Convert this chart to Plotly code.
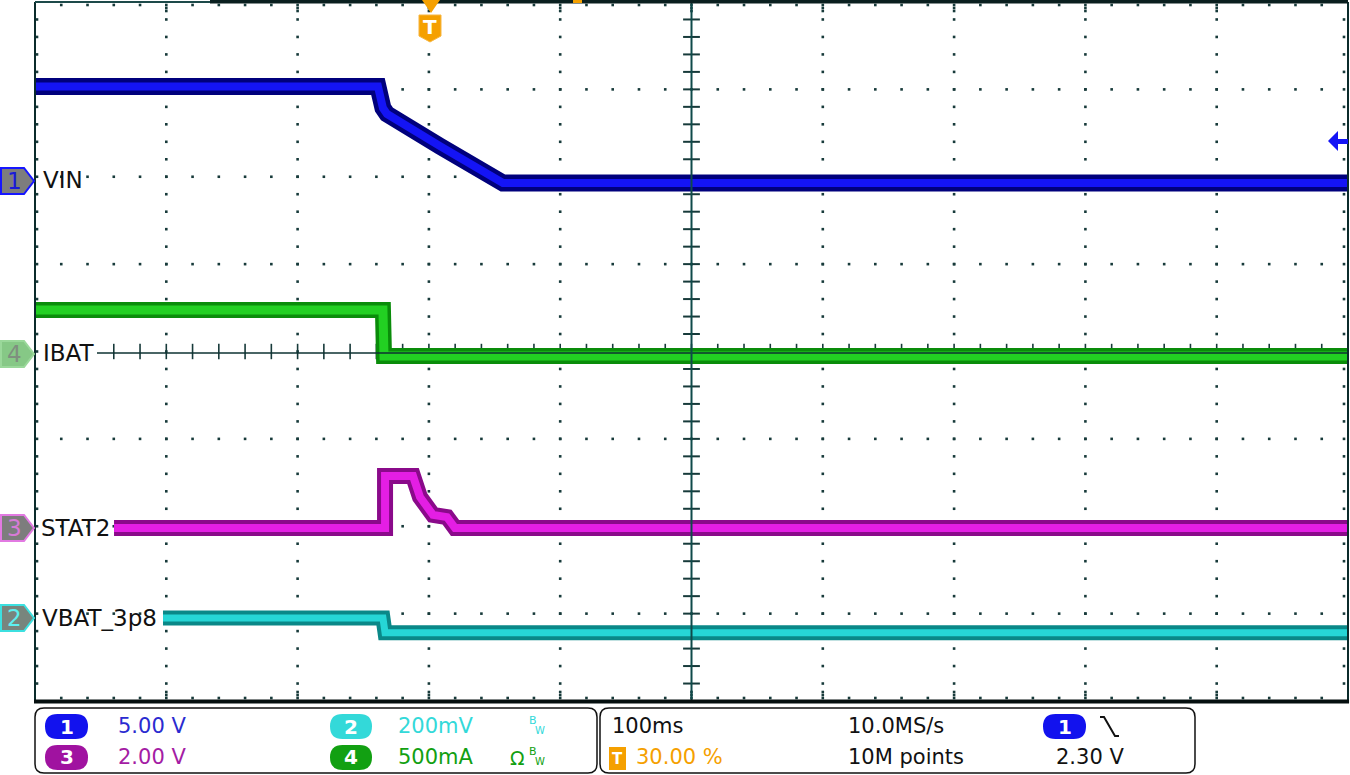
import numpy as np
import plotly.graph_objects as go

# ---------------- data ----------------
# time in ms relative to trigger
VIN_T = [-300, -38.8, -35.0, -31.9, 8.5, 54.1, 56.4, 700]
VIN_V = [5.52, 5.52, 4.29, 3.95, 2.11, 0.10, 0.0, 0.0]

IBAT_T = [-300, -35.0, -34.2, 700]
IBAT_MA = [240, 240, -23, -23]

STAT2_T = [-239.8, -33.4, -33.4, -12.1, -6.8, 3.1, 13.8, 19.9, 700]
STAT2_V = [0, 0, 1.19, 1.19, 0.71, 0.30, 0.25, 0, 0]

VBAT_T = [-202.5, -35.0, -33.4, 700]
VBAT_MV = [0, 0, -34, -34]

CH_LABELS = ["VIN", "IBAT", "STAT2", "VBAT_3p8"]
CH_SCALE_TEXT = {"1": "5.00 V", "2": "200mV", "3": "2.00 V", "4": "500mA"}
TIMEBASE = "100ms"
SAMPLE_RATE = "10.0MS/s"
RECORD = "10M points"
TRIG_POS = "30.00 %"
TRIG_LEVEL = "2.30 V"

# per-division scale and vertical position (divisions from centre) of each channel
SCALE = {"VIN": 5.0, "IBAT": 500.0, "STAT2": 2.0, "VBAT": 200.0}
OFFSET = {"VIN": 1.928, "IBAT": -0.006, "STAT2": -2.02, "VBAT": -3.049}

# ---------------- geometry helpers ----------------
L, R, T, B = 35, 1348, 2, 701
W, H = R - L, B - T


def PX(x):
    return (x - L) / W


def PY(y):
    return (B - y) / H


def rr_path(x0, y0, x1, y1, r):
    p = lambda x, y: f"{PX(x):.5f},{PY(y):.5f}"
    return (f"M {p(x0 + r, y0)} L {p(x1 - r, y0)} Q {p(x1, y0)} {p(x1, y0 + r)} "
            f"L {p(x1, y1 - r)} Q {p(x1, y1)} {p(x1 - r, y1)} L {p(x0 + r, y1)} "
            f"Q {p(x0, y1)} {p(x0, y1 - r)} L {p(x0, y0 + r)} Q {p(x0, y0)} {p(x0 + r, y0)} Z")


def poly_path(pts):
    return "M " + " L ".join(f"{PX(x):.5f},{PY(y):.5f}" for x, y in pts) + " Z"


fig = go.Figure()

# ---------------- waveforms ----------------
traces = [
    ("VIN", VIN_T, VIN_V, "y2", "#00007c", "#1414f5", 17, 8),
    ("IBAT", IBAT_T, IBAT_MA, "y3", "#0a8c0a", "#22d022", 16, 9),
    ("STAT2", STAT2_T, STAT2_V, "y4", "#8a0a8a", "#e41ee4", 16, 8),
    ("VBAT", VBAT_T, VBAT_MV, "y5", "#0a8888", "#26d6d6", 15, 7),
]
for name, tx, vy, ax, dark, bright, wo, wi in traces:
    fig.add_trace(go.Scatter(x=tx, y=vy, yaxis=ax, mode="lines",
                             line=dict(color=dark, width=wo), hoverinfo="skip", showlegend=False))
    fig.add_trace(go.Scatter(x=tx, y=vy, yaxis=ax, mode="lines",
                             line=dict(color=bright, width=wi), hoverinfo="skip", showlegend=False))

# ---------------- graticule ----------------
dot = "#173a3a"
px_ms = 100 / 131.3
px_div = 1 / 87.375
gx, gy = [], []
for t in [-200, -100, 0, 100, 300, 400, 500, 600]:
    for yv in np.arange(-3.8, 3.81, 0.2):
        gx.append(t); gy.append(yv)
for yv in [-3, -2, -1, 1, 2, 3]:
    for t in np.arange(-280, 681, 20):
        gx.append(t); gy.append(yv)
# edges
for t in np.arange(-280, 681, 20):
    gx += [t, t]; gy += [4 - 3 * px_div, -4 + 3 * px_div]
for yv in np.arange(-3.8, 3.81, 0.2):
    gx += [-300 + 2 * px_ms, 700 - 4 * px_ms]; gy += [yv, yv]
# longer ticks at major positions on top/bottom edges
for t in [-200, -100, 0, 100, 200, 300, 400, 500, 600]:
    for k in [6, 9]:
        gx += [t, t]; gy += [4 - k * px_div, -4 + k * px_div]
fig.add_trace(go.Scatter(x=gx, y=gy, mode="markers",
                         marker=dict(symbol="square", size=2.6, color=dot, line_width=0),
                         hoverinfo="skip", showlegend=False))

# centre vertical line ticks and centre horizontal ticks
cy = list(np.arange(-3.8, 3.81, 0.2))
fig.add_trace(go.Scatter(x=[200] * len(cy), y=cy, mode="markers",
                         marker=dict(symbol="line-ew", size=12, line=dict(color=dot, width=2)),
                         hoverinfo="skip", showlegend=False))
hx = list(np.arange(-240, 681, 20))
fig.add_trace(go.Scatter(x=hx, y=[0] * len(hx), mode="markers",
                         marker=dict(symbol="line-ns", size=11, line=dict(color=dot, width=1.6)),
                         hoverinfo="skip", showlegend=False))

shapes = []
# IBAT reference line
shapes.append(dict(type="line", xref="paper", yref="paper", x0=PX(97), x1=1, y0=PY(353), y1=PY(353),
                   line=dict(color="#0e3232", width=1.5)))
# centre vertical line
shapes.append(dict(type="line", xref="x", yref="paper", x0=200, x1=200, y0=0, y1=1,
                   line=dict(color="#0f4a4a", width=2)))
# borders
shapes.append(dict(type="line", xref="paper", yref="paper", x0=0, x1=0, y0=0, y1=1,
                   line=dict(color="#0b2b2b", width=2)))
shapes.append(dict(type="line", xref="paper", yref="paper", x0=1, x1=1, y0=0, y1=1,
                   line=dict(color="#0b2b2b", width=2)))
shapes.append(dict(type="rect", xref="paper", yref="paper", x0=PX(35), x1=PX(210), y0=PY(3), y1=PY(1),
                   line_width=0, fillcolor="#1d4a4a"))
shapes.append(dict(type="rect", xref="paper", yref="paper", x0=PX(210), x1=1, y0=PY(3.5), y1=PY(0),
                   line_width=0, fillcolor="#0a1f1f"))
shapes.append(dict(type="rect", xref="paper", yref="paper", x0=PX(573), x1=PX(582), y0=PY(3), y1=PY(0),
                   line_width=0, fillcolor="#f5a000"))
shapes.append(dict(type="rect", xref="paper", yref="paper", x0=PX(34), x1=1.0008, y0=PY(703.5), y1=PY(699.5),
                   line_width=0, fillcolor="#050f0f"))

# trigger position marker
shapes.append(dict(type="path", xref="paper", yref="paper",
                   path=poly_path([(422, 0), (440, 0), (431, 13)]), fillcolor="#f5a000", line_width=0))
shapes.append(dict(type="path", xref="paper", yref="paper",
                   path=poly_path([(419, 15), (441, 15), (441, 36), (430, 42), (419, 36)]),
                   fillcolor="#f5a000", line=dict(color="#f7b640", width=1)))
# trigger level arrow (right)
shapes.append(dict(type="path", xref="paper", yref="paper",
                   path=poly_path([(1328, 141), (1338, 131), (1338, 139), (1348, 139), (1348, 144),
                                   (1338, 144), (1338, 151)]),
                   fillcolor="#1414f5", line_width=0))

# channel ground tags
tags = [("1", 181, "#7d7d7d", "#1616ff", "#1a1ad8"),
        ("4", 354, "#86c886", "#9ad89a", "#7f8f7f"),
        ("3", 528, "#7d7d7d", "#e27ae2", "#d77ad7"),
        ("2", 618, "#78857d", "#3ce0e0", "#5ef0f0")]
annots = []
for num, yc, fill, border, tcol in tags:
    shapes.append(dict(type="path", xref="paper", yref="paper",
                       path=poly_path([(1, yc - 13), (24, yc - 13), (34, yc), (24, yc + 13), (1, yc + 13)]),
                       fillcolor=fill, line=dict(color=border, width=2)))
    annots.append(dict(xref="paper", yref="paper", x=PX(14), y=PY(yc), text=num, showarrow=False,
                       xanchor="center", yanchor="middle",
                       font=dict(family="DejaVu Sans", size=23, color=tcol)))

# channel labels
for lab, yc, x0 in [(CH_LABELS[0], 180, 41), (CH_LABELS[1], 353, 41), (CH_LABELS[2], 528, 39),
                    (CH_LABELS[3], 618, 40)]:
    annots.append(dict(xref="paper", yref="paper", x=PX(x0), y=PY(yc), text=lab, showarrow=False,
                       xanchor="left", yanchor="middle",
                       font=dict(family="DejaVu Sans", size=23, color="#111111")))
annots.append(dict(xref="paper", yref="paper", x=PX(430), y=PY(27), text="<b>T</b>", showarrow=False,
                   xanchor="center", yanchor="middle", font=dict(family="DejaVu Sans", size=20, color="white")))

# ---------------- bottom info boxes ----------------
shapes.append(dict(type="path", xref="paper", yref="paper", path=rr_path(35, 708, 597, 773, 9),
                   line=dict(color="#111111", width=1.5), fillcolor="rgba(0,0,0,0)"))
shapes.append(dict(type="path", xref="paper", yref="paper", path=rr_path(600, 708, 1195, 773, 9),
                   line=dict(color="#111111", width=1.5), fillcolor="rgba(0,0,0,0)"))

FS = 21
FONT = "DejaVu Sans"


def pill(x0, y0, x1, y1, color, num):
    shapes.append(dict(type="path", xref="paper", yref="paper", path=rr_path(x0, y0, x1, y1, (y1 - y0) / 2),
                       fillcolor=color, line_width=0))
    annots.append(dict(xref="paper", yref="paper", x=PX((x0 + x1) / 2), y=PY((y0 + y1) / 2), text=f"<b>{num}</b>",
                       showarrow=False, xanchor="center", yanchor="middle",
                       font=dict(family=FONT, size=20, color="white")))


def txt(x, y, s, color, size=FS):
    annots.append(dict(xref="paper", yref="paper", x=PX(x), y=PY(y), text=s, showarrow=False,
                       xanchor="left", yanchor="middle", font=dict(family=FONT, size=size, color=color)))


pill(45, 714, 88, 739, "#1212ee", "1")
txt(116, 726, CH_SCALE_TEXT["1"], "#2b2bd0")
pill(45, 745, 88, 770, "#a012a0", "3")
txt(116, 757, CH_SCALE_TEXT["3"], "#a41ca4")
pill(330, 714, 372, 739, "#33d9d9", "2")
txt(396, 726, CH_SCALE_TEXT["2"], "#33d9d9")
txt(527, 720, "B", "#33d9d9", 11)
txt(533, 730, "W", "#33d9d9", 10)
pill(330, 745, 372, 770, "#12a012", "4")
txt(396, 757, CH_SCALE_TEXT["4"], "#12a012")
txt(508, 758, "Ω", "#12a012", 19)
txt(527, 751, "B", "#12a012", 11)
txt(533, 761, "W", "#12a012", 10)

txt(610, 726, TIMEBASE, "#111111")
txt(846, 726, SAMPLE_RATE, "#111111")
pill(1043, 714, 1086, 739, "#1212ee", "1")
shapes.append(dict(type="path", xref="paper", yref="paper",
                   path=f"M {PX(1100):.5f},{PY(717):.5f} L {PX(1104):.5f},{PY(717):.5f} "
                        f"L {PX(1115):.5f},{PY(736):.5f} L {PX(1119):.5f},{PY(736):.5f}",
                   line=dict(color="#111111", width=2)))
shapes.append(dict(type="rect", xref="paper", yref="paper", x0=PX(609), x1=PX(626), y0=PY(770), y1=PY(747),
                   fillcolor="#f5a000", line_width=0))
annots.append(dict(xref="paper", yref="paper", x=PX(617.5), y=PY(758.5), text="<b>T</b>", showarrow=False,
                   xanchor="center", yanchor="middle", font=dict(family=FONT, size=15, color="white")))
txt(634, 757, TRIG_POS, "#f5a000")
txt(846, 757, RECORD, "#111111")
txt(1054, 757, TRIG_LEVEL, "#111111")

# ---------------- layout ----------------
def ch_range(ch):
    s, o = SCALE[ch], OFFSET[ch]
    return [(-4 - o) * s, (4 - o) * s]


hidden = dict(showgrid=False, zeroline=False, showticklabels=False, ticks="", showline=False, fixedrange=True)
fig.update_layout(
    width=1350, height=775,
    margin=dict(l=L, r=1350 - R, t=T, b=775 - B),
    paper_bgcolor="white", plot_bgcolor="white",
    showlegend=False,
    xaxis=dict(range=[-300, 700], **hidden),
    yaxis=dict(range=[-4, 4], **hidden),
    yaxis2=dict(range=ch_range("VIN"), overlaying="y", **hidden),
    yaxis3=dict(range=ch_range("IBAT"), overlaying="y", **hidden),
    yaxis4=dict(range=ch_range("STAT2"), overlaying="y", **hidden),
    yaxis5=dict(range=ch_range("VBAT"), overlaying="y", **hidden),
    shapes=shapes,
    annotations=annots,
)

fig.write_html("out.html", config={"displayModeBar": False},
               post_script="document.body.style.margin='0';document.body.style.padding='0';"
                           "document.body.style.overflow='hidden';")
